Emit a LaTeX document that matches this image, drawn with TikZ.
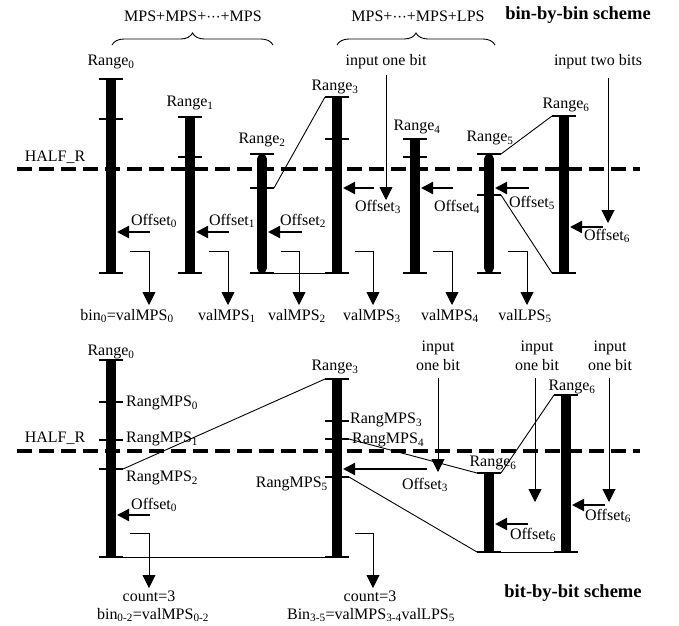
\documentclass[tikz,border=0pt]{standalone}
\usepackage{fontspec}
\setmainfont{Liberation Serif}
\usetikzlibrary{arrows.meta,decorations.pathreplacing}
\tikzset{
  txt/.style={font=\fontsize{16}{19}\selectfont, inner sep=0pt},
  btxt/.style={font=\fontsize{18.5}{22}\selectfont\bfseries, inner sep=0pt},
  barline/.style={line width=10pt},
  capline/.style={line width=1.6pt},
  conn/.style={line width=0.9pt},
  offarrow/.style={line width=2.2pt, -{Triangle[length=12pt,width=12pt]}},
  downarrow/.style={line width=0.9pt, -{Triangle[length=13pt,width=13pt]}},
  halfr/.style={line width=3.5pt, dash pattern=on 15pt off 7pt},
  bracestyle/.style={decorate, decoration={brace, amplitude=12pt}, line width=0.9pt},
}
\newcommand\mydots{\ensuremath{{\cdot}{\cdot}{\cdot}}}
\newcommand\mkbar[4]{%
  \coordinate (#1t) at (#2,#3);
  \coordinate (#1b) at (#2,#4);
  \draw[barline] (#1t) -- (#1b);
  \draw[capline] (#1t) +(-12,0) -- +(12,0);
  \draw[capline] (#1b) +(-12,0) -- +(12,0);}
\newcommand\mkrbar[4]{%
  \coordinate (#1t) at (#2,#3);
  \coordinate (#1b) at (#2,#4);
  \draw[barline, line cap=round] ([yshift=-5pt]#1t) -- ([yshift=5pt]#1b);
  \draw[capline] (#1t) +(-12,0) -- +(12,0);
  \draw[capline] (#1b) +(-12,0) -- +(12,0);}
\newcommand\mktick[3]{%
  \coordinate (#1) at (#2,#3);
  \draw[capline] (#1) +(-12,0) -- +(12,0);}
\begin{document}
\begin{tikzpicture}[x=1pt,y=-1pt]
\useasboundingbox (0,0) rectangle (679,625);

% ---------------- headers ----------------
\node[txt] (hA) at (193,16) {MPS+MPS+\mydots+MPS};
\node[txt] (hB) at (418,16) {MPS+\mydots+MPS+LPS};
\node[btxt] (hC) at (578,15) {bin-by-bin scheme};
\coordinate (brA1) at (112,45); \coordinate (brA2) at (273,45);
\coordinate (brB1) at (337,45); \coordinate (brB2) at (495,45);
\draw[bracestyle] (brA1) -- (brA2);
\draw[bracestyle] (brB1) -- (brB2);

% ---------------- top: dashed line ----------------
\coordinate (hrA1) at (17,169); \coordinate (hrA2) at (640,169);
\draw[halfr] (hrA1) -- (hrA2);
\node[txt] (hrAl) at (55,157) {HALF\_R};

% connectors (under bars)
\coordinate (a2bb) at (262,273); \coordinate (a3bb) at (337,273);
\draw[conn] (a2bb) -- (a3bb);

% bars top
\mkbar{a0}{111}{79}{273}   \mktick{a0k}{111}{119}
\mkbar{a1}{190}{117}{273}  \mktick{a1k}{190}{157}
\mkrbar{a2}{262}{154}{273} \mktick{a2k}{262}{188}
\mkbar{a3}{337}{97}{273}   \mktick{a3k}{337}{139}
\mkbar{a4}{415}{139}{273}  \mktick{a4k}{415}{157}
\mkrbar{a5}{489}{154}{273} \mktick{a5k}{489}{195}
\mkbar{a6}{564}{116}{273}

\draw[conn] ([xshift=12pt]a2k) -- ([xshift=-12pt]a3t);
\draw[conn] ([xshift=12pt]a5t) -- ([xshift=-12pt]a6t);
\draw[conn] ([xshift=12pt]a5k) -- ([xshift=-12pt]a6b);

% range labels top
\node[txt] (ra0) at (111,62) {Range\textsubscript{0}};
\node[txt] (ra1) at (190,103) {Range\textsubscript{1}};
\node[txt] (ra2) at (262,140) {Range\textsubscript{2}};
\node[txt] (ra3) at (335,87) {Range\textsubscript{3}};
\node[txt] (ra4) at (417,127) {Range\textsubscript{4}};
\node[txt] (ra5) at (490,138) {Range\textsubscript{5}};
\node[txt] (ra6) at (566,105) {Range\textsubscript{6}};

% input bits top
\node[txt] (inA) at (386,62) {input one bit};
\node[txt] (inB) at (598,62) {input two bits};
\coordinate (inAs) at (386,75); \coordinate (inAe) at (386,200);
\coordinate (inBs) at (608,78); \coordinate (inBe) at (608,223);
\draw[downarrow] (inAs) -- (inAe);
\draw[downarrow] (inBs) -- (inBe);

% offset arrows top
\coordinate (oa0s) at (150,232); \coordinate (oa0e) at (117,232);
\coordinate (oa1s) at (229,232); \coordinate (oa1e) at (196,232);
\coordinate (oa2s) at (302,232); \coordinate (oa2e) at (268,232);
\coordinate (oa3s) at (374,188); \coordinate (oa3e) at (343,188);
\coordinate (oa4s) at (453,188); \coordinate (oa4e) at (421,188);
\coordinate (oa5s) at (529,188); \coordinate (oa5e) at (495,188);
\coordinate (oa6s) at (603,227); \coordinate (oa6e) at (570,227);
\foreach \i in {0,...,6} {\draw[offarrow] (oa\i s) -- (oa\i e);}
\node[txt] (ola0) at (154,221) {Offset\textsubscript{0}};
\node[txt] (ola1) at (232,221) {Offset\textsubscript{1}};
\node[txt] (ola2) at (303,221) {Offset\textsubscript{2}};
\node[txt] (ola3) at (378,207) {Offset\textsubscript{3}};
\node[txt] (ola4) at (457,207) {Offset\textsubscript{4}};
\node[txt] (ola5) at (532,203) {Offset\textsubscript{5}};
\node[txt] (ola6) at (607,236) {Offset\textsubscript{6}};

% result arrows top
\coordinate (da0s) at (130,251); \coordinate (da0e) at (149,305);
\coordinate (da1s) at (209,251); \coordinate (da1e) at (228,305);
\coordinate (da2s) at (281,251); \coordinate (da2e) at (299,305);
\coordinate (da3s) at (355,251); \coordinate (da3e) at (373,305);
\coordinate (da4s) at (433,251); \coordinate (da4e) at (452,305);
\coordinate (da5s) at (508,251); \coordinate (da5e) at (527,305);
\foreach \i in {0,...,5} {\draw[downarrow] (da\i s) -| (da\i e);}
\node[txt] (va0) at (127,316) {bin\textsubscript{0}=valMPS\textsubscript{0}};
\node[txt] (va1) at (227,316) {valMPS\textsubscript{1}};
\node[txt] (va2) at (297,316) {valMPS\textsubscript{2}};
\node[txt] (va3) at (372,316) {valMPS\textsubscript{3}};
\node[txt] (va4) at (450,316) {valMPS\textsubscript{4}};
\node[txt] (va5) at (525,316) {valLPS\textsubscript{5}};

% ---------------- bottom ----------------
\coordinate (hrB1) at (17,451); \coordinate (hrB2) at (640,451);
\draw[halfr] (hrB1) -- (hrB2);
\node[txt] (hrBl) at (55,438) {HALF\_R};

\coordinate (c0bb) at (111,557); \coordinate (c3bb) at (337,557);
\draw[conn] (c0bb) -- (c3bb);
\coordinate (c5bb) at (489,552); \coordinate (c6bb) at (566,552);
\draw[conn] (c5bb) -- (c6bb);

\mkbar{c0}{111}{360}{557}
\mktick{c0k1}{111}{402} \mktick{c0k2}{111}{440} \mktick{c0k3}{111}{469}
\mkbar{c3}{337}{379}{557}
\mktick{c3k1}{337}{421} \mktick{c3k2}{337}{439} \mktick{c3k3}{337}{477}
\mkbar{c5}{489}{473}{552}
\mkbar{c6}{566}{395}{552}

\draw[conn] ([xshift=12pt]c0k3) -- ([xshift=-12pt]c3t);
\draw[conn] ([xshift=12pt]c3k2) -- ([xshift=-12pt]c5t);
\draw[conn] ([xshift=12pt]c3k3) -- ([xshift=-12pt]c5b);
\draw[conn] ([xshift=12pt]c5t) -- ([xshift=-12pt]c6t);

\node[txt] (rc0) at (111,352) {Range\textsubscript{0}};
\node[txt] (rc3) at (335,367) {Range\textsubscript{3}};
\node[txt] (rc5) at (493,463) {Range\textsubscript{6}};
\node[txt] (rc6) at (572,387) {Range\textsubscript{6}};

\node[txt, anchor=west] (m0) at (126,403) {RangMPS\textsubscript{0}};
\node[txt, anchor=west] (m1) at (126,439) {RangMPS\textsubscript{1}};
\node[txt, anchor=west] (m2) at (126,478) {RangMPS\textsubscript{2}};
\node[txt, anchor=west] (m3) at (350,420) {RangMPS\textsubscript{3}};
\node[txt, anchor=west] (m4) at (352,440) {RangMPS\textsubscript{4}};
\node[txt, anchor=east] (m5) at (328,484) {RangMPS\textsubscript{5}};

% input bits bottom
\node[txt, align=center] (inC) at (438,356) {input\\one bit};
\node[txt, align=center] (inD) at (537,356) {input\\one bit};
\node[txt, align=center] (inE) at (610,356) {input\\one bit};
\coordinate (inCs) at (438,378); \coordinate (inCe) at (438,472);
\coordinate (inDs) at (535,378); \coordinate (inDe) at (535,502);
\coordinate (inEs) at (609,378); \coordinate (inEe) at (609,502);
\draw[downarrow] (inCs) -- (inCe);
\draw[downarrow] (inDs) -- (inDe);
\draw[downarrow] (inEs) -- (inEe);

% offsets bottom
\coordinate (ob0s) at (150,515); \coordinate (ob0e) at (117,515);
\coordinate (ob3s) at (427,469); \coordinate (ob3e) at (343,469);
\coordinate (ob5s) at (528,524); \coordinate (ob5e) at (495,524);
\coordinate (ob6s) at (605,505); \coordinate (ob6e) at (572,505);
\draw[offarrow] (ob0s) -- (ob0e);
\draw[offarrow] (ob3s) -- (ob3e);
\draw[offarrow] (ob5s) -- (ob5e);
\draw[offarrow] (ob6s) -- (ob6e);
\node[txt, anchor=west] (olb0) at (131,505) {Offset\textsubscript{0}};
\node[txt] (olb3) at (425,485) {Offset\textsubscript{3}};
\node[txt] (olb5) at (533,535) {Offset\textsubscript{6}};
\node[txt] (olb6) at (608,516) {Offset\textsubscript{6}};

% result arrows bottom
\coordinate (db0s) at (130,533); \coordinate (db0e) at (149,588);
\coordinate (db3s) at (355,533); \coordinate (db3e) at (373,588);
\draw[downarrow] (db0s) -| (db0e);
\draw[downarrow] (db3s) -| (db3e);
\node[txt] (cnt0) at (149,596) {count=3};
\node[txt] (cnt3) at (370,596) {count=3};
\node[txt] (vb0) at (153,615) {bin\textsubscript{0-2}=valMPS\textsubscript{0-2}};
\node[txt] (vb3) at (371,615) {Bin\textsubscript{3-5}=valMPS\textsubscript{3-4}valLPS\textsubscript{5}};
\node[btxt] (hD) at (573,593) {bit-by-bit scheme};
\end{tikzpicture}
\end{document}
